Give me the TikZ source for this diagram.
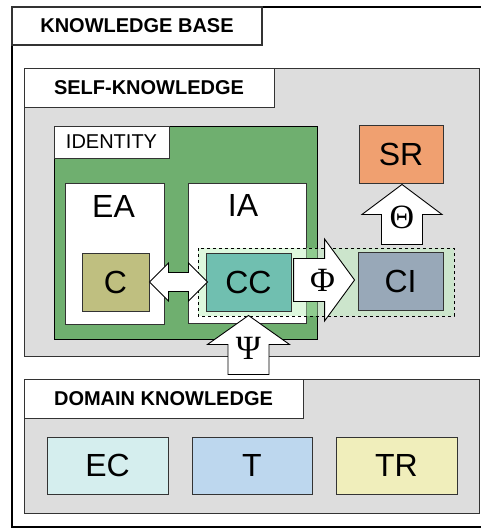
\documentclass[tikz,border=0pt]{standalone}
\usepackage{fontspec}
\setmainfont{Liberation Sans}
\newfontfamily\greekfont{Liberation Serif}
\usetikzlibrary{calc}

\definecolor{panelgray}{HTML}{DDDDDD}
\definecolor{idgreen}{HTML}{6FAF6F}
\definecolor{cfill}{HTML}{BFBF80}
\definecolor{ccfill}{HTML}{70BFB0}
\definecolor{cifill}{HTML}{98A8B8}
\definecolor{srfill}{HTML}{F0A070}
\definecolor{ecfill}{HTML}{D5EEEE}
\definecolor{tfill}{HTML}{BDD7EE}
\definecolor{trfill}{HTML}{F0EEBB}
\definecolor{zonegreen}{HTML}{B8F0B8}

\begin{document}
\begin{tikzpicture}[x=1pt, y=-1pt,
  box/.style={draw=black!80, line width=0.9pt, inner sep=0pt},
  tab/.style={box, fill=white, font=\bfseries\fontsize{20}{24}\selectfont},
  letter/.style={font=\fontsize{32}{36}\selectfont},
  greek/.style={font=\greekfont\fontsize{34}{38}\selectfont},
  blockarrow/.style={draw=black, line width=0.9pt, fill=white, line join=miter}]

  \useasboundingbox (0,0) rectangle (480,529);

  % Knowledge base frame
  \draw[line width=2pt] (12,7) rectangle (486,527);
  \node[tab, line width=2pt, minimum width=250pt, minimum height=38pt] (kbtab) at (137,26) {KNOWLEDGE BASE};

  % Self-knowledge
  \draw[box, fill=panelgray] (24,68) rectangle (479,356);
  \node[tab, minimum width=250pt, minimum height=39pt] (selftab) at (149,87.5) {SELF-KNOWLEDGE};

  % Identity
  \draw[box, draw=black, fill=idgreen] (54,126) rectangle (317,339);
  \node[box, fill=white, minimum width=115pt, minimum height=32pt, font=\fontsize{20}{24}\selectfont] (idtab) at (111.5,142) {IDENTITY};
  \node[box, fill=white, minimum width=99pt, minimum height=141pt] (EA) at (114.5,253.5) {};
  \node[letter] at ($(EA.north)+(-1,24)$) {EA};
  \node[box, fill=white, minimum width=118pt, minimum height=140pt] (IA) at (247,253) {};
  \node[letter] at ($(IA.north)+(-4,23)$) {IA};

  % Zone of CC and CI
  \draw[dashed, line width=0.9pt, fill=zonegreen, fill opacity=0.45] (198,248) rectangle (454,316);

  % Components
  \node[box, fill=cfill, minimum width=67pt, minimum height=58pt, letter] (C) at (115.5,282) {C};
  \node[box, fill=ccfill, minimum width=85pt, minimum height=58pt, letter] (CC) at (248.5,282) {CC};
  \node[box, fill=cifill, minimum width=85pt, minimum height=58pt, letter] (CI) at (400.5,281) {CI};
  \node[box, fill=srfill, minimum width=84pt, minimum height=58pt, letter] (SR) at (401,154) {SR};

  % C <-> CC
  \draw[blockarrow] (C.east) -- ++(19,-19) -- ++(0,9.5) -- ++(20,0) -- ++(0,-9.5) -- ++(19,19)
    -- ++(-19,19) -- ++(0,-9.5) -- ++(-20,0) -- ++(0,9.5) -- cycle;

  % Phi : CC -> CI
  \draw[blockarrow] ($(CI.west)+(-3,-1)$) -- ++(-30,-41) -- ++(0,19.5) -- ++(-31,0) -- ++(0,43)
    -- ++(31,0) -- ++(0,19.5) -- cycle;
  \node[greek] (phi) at ($(CI.west)+(-35,-1)$) {Φ};

  % Theta : CI -> SR
  \draw[blockarrow] ($(SR.south)+(1,1)$) -- ++(40,30) -- ++(-19.5,0) -- ++(0,30) -- ++(-41,0)
    -- ++(0,-30) -- ++(-19.5,0) -- cycle;
  \node[greek] (theta) at ($(SR.south)+(1,34)$) {Θ};

  % Psi : domain -> CC
  \draw[blockarrow] ($(CC.south)+(0,4)$) -- ++(41,29) -- ++(-20.5,0) -- ++(0,30) -- ++(-41,0)
    -- ++(0,-30) -- ++(-20.5,0) -- cycle;
  \node[greek] (psi) at ($(CC.south)+(0,37)$) {Ψ};

  % Domain knowledge
  \draw[box, fill=panelgray] (24,379) rectangle (479,513);
  \node[tab, minimum width=279pt, minimum height=39pt] (domtab) at (163.5,398.5) {DOMAIN KNOWLEDGE};
  \node[box, fill=ecfill, minimum width=121pt, minimum height=57pt, letter] (EC) at (107.5,465.5) {EC};
  \node[box, fill=tfill, minimum width=120pt, minimum height=57pt, letter] (T) at (252,465.5) {T};
  \node[box, fill=trfill, minimum width=121pt, minimum height=57pt, letter] (TR) at (396.5,465.5) {TR};
\end{tikzpicture}
\end{document}
